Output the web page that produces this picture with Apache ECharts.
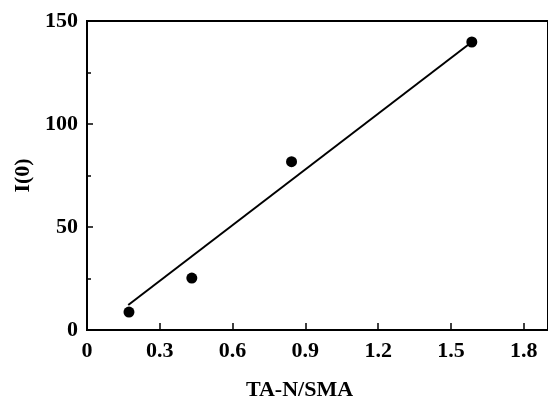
<!DOCTYPE html>
<html>
<head>
<meta charset="utf-8">
<script src="https://cdn.jsdelivr.net/npm/echarts@6/dist/echarts.min.js"></script>
<style>
  html, body { margin: 0; padding: 0; background: #fff; }
  #chart { width: 548px; height: 401px; }
</style>
</head>
<body>
<div id="chart"></div>
<script>
// measured points
const ratio = [0.173, 0.432, 0.843, 1.586]
const intensity = [8.7, 25.2, 81.7, 139.8]
// fitted line ends
const fitX = [0.170, 1.586]
const fitY = [12.1, 139.8]

const font = 'Liberation Serif, Times New Roman, serif'

const chart = echarts.init(document.getElementById('chart'))

const option = {
  animation: false,
  grid: {
    left: 87,
    right: 0,
    top: 21,
    bottom: 71,
    outerBoundsMode: 'none',
    show: true,
    borderColor: '#000',
    borderWidth: 2
  },
  xAxis: {
    type: 'value',
    min: 0,
    max: 1.9,
    interval: 0.3,
    name: 'TA-N/SMA',
    nameLocation: 'middle',
    nameGap: 49,
    nameTextStyle: {
      fontFamily: font, fontWeight: 'bold', fontSize: 22, color: '#000',
      padding: [0, 36, 0, 0]
    },
    axisLine: { lineStyle: { color: '#000', width: 2 } },
    axisTick: { inside: true, length: 7, lineStyle: { color: '#000', width: 1.5 } },
    axisLabel: {
      fontFamily: font, fontWeight: 'bold', fontSize: 22, color: '#000', margin: 10,
      showMaxLabel: false,
      formatter: v => (v === 0 ? '0' : v.toFixed(1))
    },
    splitLine: { show: false }
  },
  yAxis: {
    type: 'value',
    min: 0,
    max: 150,
    interval: 50,
    name: 'I(0)',
    nameLocation: 'middle',
    nameGap: 52,
    nameTextStyle: { fontFamily: font, fontWeight: 'bold', fontSize: 22, color: '#000' },
    axisLine: { lineStyle: { color: '#000', width: 2 } },
    axisTick: { inside: true, length: 6, lineStyle: { color: '#000', width: 1.5 } },
    minorTick: { show: true, splitNumber: 2, length: 4, lineStyle: { color: '#000', width: 1.5 } },
    axisLabel: { fontFamily: font, fontWeight: 'bold', fontSize: 22, color: '#000', margin: 9 },
    splitLine: { show: false }
  },
  series: [
    {
      type: 'line',
      data: fitX.map((x, i) => [x, fitY[i]]),
      showSymbol: false,
      lineStyle: { color: '#000', width: 2 }
    },
    {
      type: 'scatter',
      data: ratio.map((x, i) => [x, intensity[i]]),
      symbol: 'circle',
      symbolSize: 11,
      itemStyle: { color: '#000', opacity: 1 }
    }
  ]
}

chart.setOption(option)
</script>
</body>
</html>
